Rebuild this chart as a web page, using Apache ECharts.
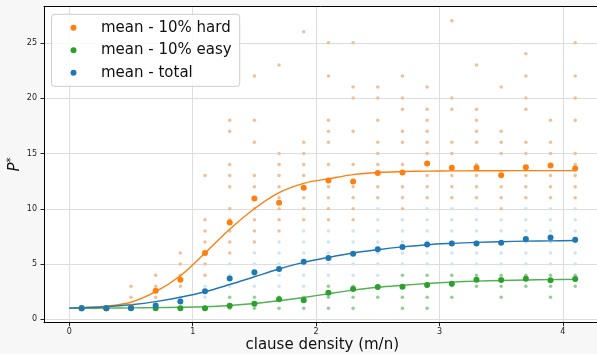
<!DOCTYPE html>
<html>
<head>
<meta charset="utf-8">
<script src="https://cdn.jsdelivr.net/npm/echarts@6/dist/echarts.min.js"></script>
<style>
  html, body { margin: 0; padding: 0; background: #f7f7f7; }
  #chart { width: 597px; height: 354px; }
</style>
</head>
<body>
<div id="chart"></div>
<script>
// clause densities where instances were sampled
const xs = [0.1, 0.3, 0.5, 0.7, 0.9, 1.1, 1.3, 1.5, 1.7, 1.9, 2.1, 2.3, 2.5, 2.7, 2.9, 3.1, 3.3, 3.5, 3.7, 3.9, 4.1]

// means per density
const hardMean = [1.0, 1.0, 1.1, 2.59, 3.59, 6.0, 8.75, 10.92, 10.55, 11.89, 12.55, 12.46, 13.24, 13.27, 14.09, 13.7, 13.7, 13.03, 13.76, 13.9, 13.64]
const easyMean = [1.0, 1.0, 1.0, 1.0, 1.0, 1.0, 1.23, 1.42, 1.82, 1.72, 2.41, 2.74, 2.92, 2.95, 3.1, 3.22, 3.59, 3.56, 3.68, 3.53, 3.65]
const totalMean = [1.0, 1.0, 1.03, 1.25, 1.62, 2.55, 3.7, 4.25, 4.55, 5.2, 5.55, 5.94, 6.33, 6.55, 6.76, 6.86, 6.86, 6.92, 7.27, 7.4, 7.2]

// individual P* values (visible ones) per density
const hardPts = [
  [1], [1], [3, 2, 1], [4, 3, 2], [6, 5, 4, 3], [13, 9, 8, 7, 6, 5, 4],
  [18, 17, 14, 13, 12, 10, 9, 8, 7, 6], [22, 18, 16, 13, 12, 11, 10, 9, 8, 7],
  [23, 15, 14, 13, 12, 11, 10, 9, 8], [26, 16, 15, 14, 13, 11, 10, 9],
  [25, 22, 18, 17, 16, 14, 12, 11, 10, 9], [25, 21, 20, 17, 14, 12, 11, 10, 9],
  [21, 20, 18, 16, 15, 14, 12, 11], [22, 20, 19, 17, 16, 14, 12, 11, 10],
  [21, 19, 18, 17, 16, 15, 13, 12, 11], [27, 20, 19, 16, 15, 13, 12, 11],
  [23, 19, 18, 17, 16, 14, 13, 12, 11], [21, 17, 16, 15, 12, 11, 10],
  [24, 22, 20, 19, 16, 15, 13, 12, 11], [18, 16, 15, 13, 12, 11],
  [25, 22, 20, 18, 15, 14, 13, 12, 11],
]
const easyPts = [
  [1], [1], [1], [1], [1], [1], [2, 1], [2, 1], [2, 1], [2, 1], [3, 2, 1], [3, 2, 1],
  [3, 2], [4, 2, 1], [4, 2, 1], [4, 2], [4, 3], [4, 3, 2], [4, 3], [4, 3, 2], [4, 3],
]
const totalPts = [
  [1], [1], [1], [1], [2, 1], [3, 2], [5, 4, 3], [6, 5, 4, 3], [7, 6, 5, 4, 3],
  [8, 7, 6, 5, 4, 3], [8, 7, 6, 5, 4], [8, 7, 6, 5, 4], [10, 9, 8, 7, 6, 5, 4],
  [9, 8, 7, 6, 5, 3], [10, 9, 8, 7, 6, 5, 3], [10, 9, 8, 7, 6, 5, 3],
  [10, 9, 8, 7, 6, 5], [9, 8, 7, 6, 5], [10, 9, 8, 7, 6, 5], [10, 9, 8, 7, 6, 5],
  [10, 9, 8, 7, 6, 5],
]

// fitted curves
const fitX = [0, 0.1, 0.3, 0.5, 0.7, 0.9, 1.1, 1.3, 1.5, 1.7, 1.9, 2.1, 2.3, 2.5, 2.7, 2.9, 3.1, 3.3, 3.5, 3.7, 3.9, 4.1]
const hardFit = [1.02, 1.05, 1.2, 1.55, 2.5, 3.95, 6.0, 8.15, 10.0, 11.45, 12.3, 12.7, 13.08, 13.28, 13.36, 13.4, 13.42, 13.43, 13.44, 13.45, 13.45, 13.45]
const easyFit = [1.0, 1.0, 1.02, 1.04, 1.06, 1.09, 1.14, 1.25, 1.43, 1.68, 1.98, 2.32, 2.64, 2.9, 3.08, 3.24, 3.37, 3.46, 3.52, 3.56, 3.59, 3.62]
const totalFit = [1.02, 1.05, 1.14, 1.32, 1.6, 2.0, 2.5, 3.15, 3.85, 4.55, 5.15, 5.6, 6.0, 6.3, 6.55, 6.75, 6.87, 6.96, 7.02, 7.07, 7.1, 7.13]

const xTicks = [0, 1, 2, 3, 4]
const yTicks = [0, 5, 10, 15, 20, 25]
const names = ['mean - 10% hard', 'mean - 10% easy', 'mean - total']

const font = 'DejaVu Sans'
const orange = '#ff7f0e'
const green = '#2ca02c'
const blue = '#1f77b4'

const pairs = (x, y) => x.map((v, i) => [v, y[i]])
const spread = cols => xs.flatMap((x, i) => cols[i].map(v => [x, v]))

function cloud(data, color) {
  return { type: 'scatter', data, symbolSize: 3.5, itemStyle: { color, opacity: 1 }, silent: true, z: 1 }
}
function fit(data, color) {
  return { type: 'line', data, smooth: 0.35, showSymbol: false, lineStyle: { color, width: 1.4 }, silent: true, z: 2 }
}
function means(name, data, color) {
  return { name, type: 'scatter', data, symbolSize: 6, itemStyle: { color, opacity: 1 }, z: 3 }
}

const chart = echarts.init(document.getElementById('chart'))
chart.setOption({
  backgroundColor: '#f7f7f7',
  animation: false,
  textStyle: { fontFamily: font },
  grid: {
    left: 44, right: -3.5, top: 6.3, bottom: 31.3,
    outerBoundsMode: 'none',
    containLabel: false,
    show: true, backgroundColor: '#fff', borderWidth: 0,
  },
  legend: {
    data: names,
    orient: 'vertical',
    left: 51.5,
    top: 14.3,
    padding: [6, 8, 6, 19],
    itemWidth: 45,
    itemHeight: 6,
    itemGap: 7.5,
    icon: 'circle',
    backgroundColor: 'rgba(255,255,255,0.85)',
    borderColor: '#cccccc',
    borderWidth: 1,
    borderRadius: 3,
    textStyle: { fontFamily: font, fontSize: 15, lineHeight: 15, color: '#111' },
  },
  xAxis: [
    {
      type: 'value',
      min: -0.205,
      max: 4.305,
      splitNumber: 5,
      name: 'clause density (m/n)',
      nameLocation: 'middle',
      nameGap: 15,
      nameMoveOverlap: false,
      nameTextStyle: { fontFamily: font, fontSize: 15, color: '#111' },
      axisLine: { show: true, onZero: false, lineStyle: { color: '#000', width: 1 } },
      axisTick: { show: true, length: 3.5, customValues: xTicks, lineStyle: { color: '#222' } },
      axisLabel: { customValues: xTicks, fontSize: 8, color: '#222', margin: 5 },
      splitLine: { show: true, lineStyle: { color: '#dddddd', width: 1 } },
    },
    {
      type: 'value',
      position: 'top',
      min: -0.205,
      max: 4.305,
      axisLine: { show: true, onZero: false, lineStyle: { color: '#000', width: 1 } },
      axisTick: { show: false },
      axisLabel: { show: false },
      splitLine: { show: false },
    },
  ],
  yAxis: {
    type: 'value',
    min: -0.3,
    max: 28.3,
    splitNumber: 6,
    name: '{p|P}{s|*}',
    nameLocation: 'middle',
    nameRotate: 90,
    nameGap: 20,
    nameMoveOverlap: false,
    nameTextStyle: {
      rich: {
        p: { fontFamily: font, fontSize: 15, fontStyle: 'italic', color: '#111', lineHeight: 18 },
        s: { fontFamily: font, fontSize: 10, color: '#111', verticalAlign: 'top' },
      },
    },
    axisLine: { show: true, onZero: false, lineStyle: { color: '#000', width: 1 } },
    axisTick: { show: true, length: 3.5, customValues: yTicks, lineStyle: { color: '#222' } },
    axisLabel: { customValues: yTicks, fontSize: 8, color: '#222', margin: 7 },
    splitLine: { show: true, lineStyle: { color: '#dddddd', width: 1 } },
  },
  series: [
    cloud(spread(totalPts), '#d2e3f0'),
    cloud(spread(hardPts), '#efbf98'),
    cloud(spread(easyPts), '#93cd93'),
    fit(pairs(fitX, hardFit), orange),
    fit(pairs(fitX, easyFit), '#4fb34f'),
    fit(pairs(fitX, totalFit), blue),
    means(names[0], pairs(xs, hardMean), orange),
    means(names[1], pairs(xs, easyMean), green),
    means(names[2], pairs(xs, totalMean), blue),
  ],
})
</script>
</body>
</html>
